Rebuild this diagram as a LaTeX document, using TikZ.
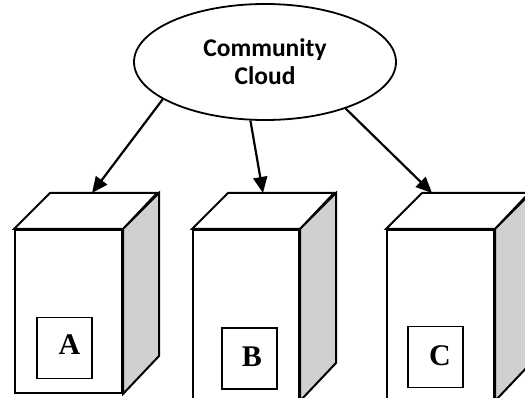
\documentclass[tikz,border=0pt]{standalone}
\usepackage{fontspec}
\newfontfamily\calfont{Carlito}
\newfontfamily\tmsfont{Liberation Serif}
\usetikzlibrary{arrows.meta,shapes.geometric}
\definecolor{sidegray}{HTML}{D0D0D0}
\begin{document}
\begin{tikzpicture}[x=1pt,y=-1pt,
  face/.style={draw, line width=2pt, line join=miter, fill=white},
  sideface/.style={draw, line width=2pt, line join=miter, fill=sidegray},
  front/.style={face, inner sep=0pt, anchor=north west},
  sq/.style={draw, line width=1.8pt, fill=white, minimum width=55pt, minimum height=61pt, inner sep=0pt},
  letter/.style={inner sep=0pt, font=\tmsfont\bfseries\fontsize{30}{31}\selectfont},
  arr/.style={line width=2.2pt, -{Triangle[length=16pt,width=14pt]}}]
\clip (0,0) rectangle (525,398);
% cloud
\node[ellipse, draw, line width=1.8pt, minimum width=262pt, minimum height=116pt, inner sep=0pt,
  align=center, font=\calfont\bfseries\fontsize{25.5}{28}\selectfont] (cloud) at (265,62) {Community\\Cloud};
% box A
\node[front, minimum width=107pt, minimum height=163pt] (fA) at (14,229) {};
\draw[face] (fA.north west) -- ++(36,-36) -- ++(107,0) -- (fA.north east) -- cycle;
\draw[sideface] (fA.north east) -- ++(36,-36) -- ++(0,163) -- (fA.south east) -- cycle;
\node[sq] (sA) at (64.5,348) {};
\node[letter] (lA) at (69.5,345) {A};
% box B
\node[front, minimum width=106pt, minimum height=170pt] (fB) at (192,229) {};
\draw[face] (fB.north west) -- ++(36,-36) -- ++(106,0) -- (fB.north east) -- cycle;
\draw[sideface] (fB.north east) -- ++(36,-36) -- ++(0,170) -- (fB.south east) -- cycle;
\node[sq] (sB) at (249.5,358.5) {};
\node[letter] (lB) at (252,357) {B};
% box C
\node[front, minimum width=107pt, minimum height=170pt] (fC) at (386,229) {};
\draw[face] (fC.north west) -- ++(36,-36) -- ++(107,0) -- (fC.north east) -- cycle;
\draw[sideface] (fC.north east) -- ++(36,-36) -- ++(0,170) -- (fC.south east) -- cycle;
\node[sq] (sC) at (435.5,357) {};
\node[letter] (lC) at (440,356) {C};
% arrows
\coordinate (tipA) at (92,193);
\coordinate (tipB) at (263,193);
\coordinate (tipC) at (432,193);
\draw[arr] (cloud.200) -- (tipA);
\draw[arr] (cloud.256) -- (tipB);
\draw[arr] (cloud.330) -- (tipC);
\end{tikzpicture}
\end{document}
